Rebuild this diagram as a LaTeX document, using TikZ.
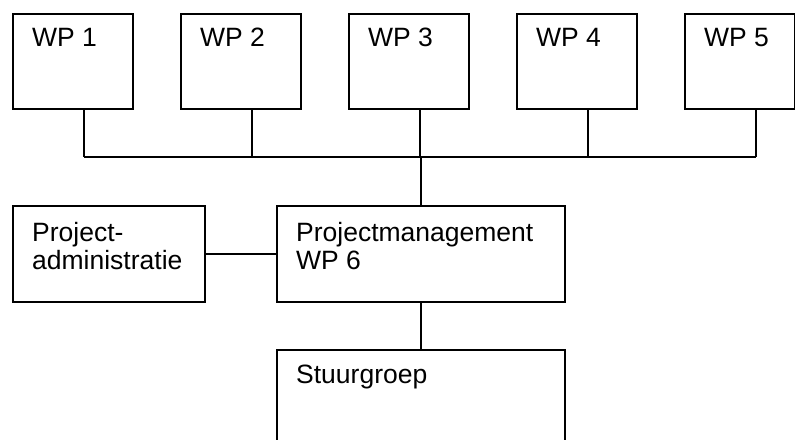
\documentclass[tikz,border=0pt]{standalone}
\usepackage{fontspec}
\setmainfont{Liberation Sans}
\newcommand{\twolines}[2]{\vtop{\hbox{#1}\hbox{#2}}}
\begin{document}
\begin{tikzpicture}[x=1pt,y=-1pt,
  box/.style={draw=black,line width=2pt,rectangle,inner sep=0pt,anchor=north west,fill=none},
  lbl/.style={anchor=base west,inner sep=0pt,font=\fontsize{26.5}{28.5}\selectfont,text=black},
  conn/.style={draw=black,line width=2pt}]
\useasboundingbox (0,0) rectangle (795,439);
\fill[white] (0,0) rectangle (795,439);
\clip (0,0) rectangle (795,439);
% top row
\node[box,minimum width=120pt,minimum height=95.6pt] (wp1) at (12,12.7) {};
\node[box,minimum width=120pt,minimum height=95.6pt] (wp2) at (180,12.7) {};
\node[box,minimum width=120pt,minimum height=95.6pt] (wp3) at (348,12.7) {};
\node[box,minimum width=120pt,minimum height=95.6pt] (wp4) at (516,12.7) {};
\node[box,minimum width=110pt,minimum height=95.6pt] (wp5) at (684,12.7) {};
\node[lbl] (t1) at ([shift={(20,34)}]wp1.north west) {WP 1};
\node[lbl] (t2) at ([shift={(20,34)}]wp2.north west) {WP 2};
\node[lbl] (t3) at ([shift={(20,34)}]wp3.north west) {WP 3};
\node[lbl] (t4) at ([shift={(20,34)}]wp4.north west) {WP 4};
\node[lbl] (t5) at ([shift={(20,34)}]wp5.north west) {WP 5};
% middle row
\node[box,minimum width=192pt,minimum height=95.7pt] (pa) at (12,205) {};
\node[box,minimum width=288pt,minimum height=95.7pt] (pm) at (276,205) {};
\node[lbl] (tpa) at ([shift={(20,36)}]pa.north west) {\twolines{Project-}{administratie}};
\node[lbl] (tpm) at ([shift={(20,36)}]pm.north west) {\twolines{Projectmanagement}{WP 6}};
% bottom
\node[box,minimum width=288pt,minimum height=120pt] (sg) at (276,349) {};
\node[lbl] (tsg) at ([shift={(20,34)}]sg.north west) {Stuurgroep};
% bus
\coordinate (busL) at (84,156.5);
\coordinate (busR) at (756,156.5);
\draw[conn] (busL) -- (busR);
\draw[conn] ([xshift=72pt]wp1.south west) -- ([xshift=72pt]wp1.south west |- busL);
\draw[conn] ([xshift=72pt]wp2.south west) -- ([xshift=72pt]wp2.south west |- busL);
\draw[conn] ([xshift=72pt]wp3.south west) -- ([xshift=72pt]wp3.south west |- busL);
\draw[conn] ([xshift=72pt]wp4.south west) -- ([xshift=72pt]wp4.south west |- busL);
\draw[conn] ([xshift=72pt]wp5.south west) -- ([xshift=72pt]wp5.south west |- busL);
\draw[conn] (pm.north) -- (pm.north |- busL);
\draw[conn] (pa.east) -- (pm.west);
\draw[conn] (pm.south) -- (sg.north);
\end{tikzpicture}
\end{document}
